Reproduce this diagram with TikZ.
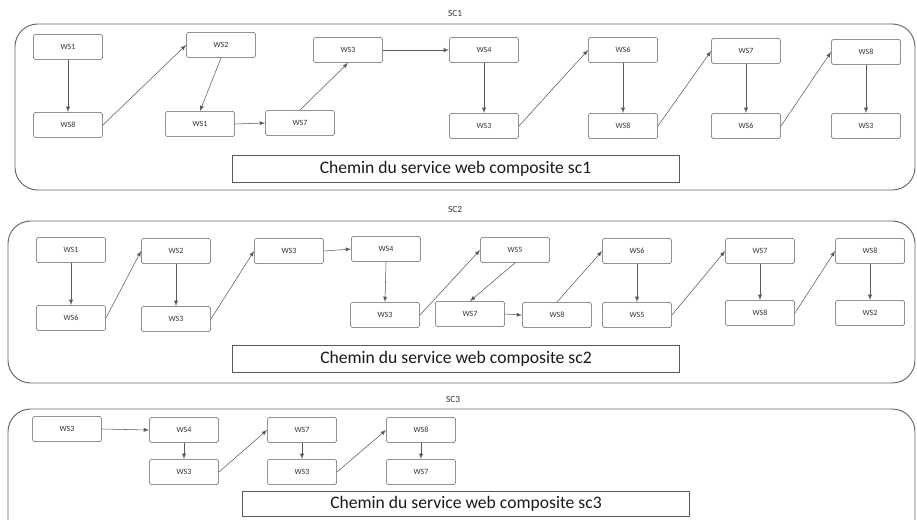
\documentclass[tikz,border=0pt]{standalone}
\usepackage{fontspec}
\setmainfont{Carlito}
\usetikzlibrary{arrows}
\usetikzlibrary{positioning}

\tikzset {
  % web service box
  ws/.style = {
    draw = black!65,
    rounded corners = 2pt,
    minimum width = 52pt,
    minimum height = 19pt,
    inner sep = 0,
    text = black!80,
    font = \fontsize{6}{7}\selectfont
  },
  % caption of each composite service
  path label/.style = {
    draw = black!65,
    minimum width = 335pt,
    minimum height = 20pt,
    inner sep = 0,
    text = black!90,
    font = \fontsize{13.2}{15}\selectfont
  },
  sc title/.style = {
    text = black!80,
    font = \fontsize{7}{8}\selectfont
  },
  % composite service frame
  sc frame/.style = {
    draw = black!60,
    line width = 0.7pt,
    rounded corners = 17pt
  },
  flow/.style = {
    draw = black!65,
    ->,
    >=latex
  }
}

\begin{document}
\begin{tikzpicture}[x=0.75pt, y=-0.75pt]
    \clip (0,0) rectangle (917,520);

    % SC1
    \node[sc title] (sc1) at (455,14) {SC1};
    \draw[sc frame] (15,24) rectangle (915,190);
    \node[ws] (a1) at (68,47) {WS1};
    \node[ws] (a2) at (68,125) {WS8};
    \node[ws] (a3) at (221,45) {WS2};
    \node[ws] (a4) at (200,124) {WS1};
    \node[ws] (a5) at (300,123) {WS7};
    \node[ws] (a6) at (348,50) {WS3};
    \node[ws] (a7) at (484,50) {WS4};
    \node[ws] (a8) at (484,126) {WS3};
    \node[ws] (a9) at (623,50) {WS6};
    \node[ws] (a10) at (623,126) {WS8};
    \node[ws] (a11) at (746,51) {WS7};
    \node[ws] (a12) at (746,126) {WS6};
    \node[ws] (a13) at (866,52) {WS8};
    \node[ws] (a14) at (866,126) {WS3};
    \node[path label] (cap1) at (455.5,168.5) {Chemin du service web composite sc1};

    \draw[flow] (a1.south) -- (a2.north);
    \draw[flow] (a2.east) -- (a3.west);
    \draw[flow] (a3.south) -- (a4.north);
    \draw[flow] (a4.east) -- (a5.west);
    \draw[flow] (a5.north) -- (a6.south);
    \draw[flow] (a6.east) -- (a7.west);
    \draw[flow] (a7.south) -- (a8.north);
    \draw[flow] (a8.east) -- (a9.west);
    \draw[flow] (a9.south) -- (a10.north);
    \draw[flow] (a10.east) -- (a11.west);
    \draw[flow] (a11.south) -- (a12.north);
    \draw[flow] (a12.east) -- (a13.west);
    \draw[flow] (a13.south) -- (a14.north);

    % SC2
    \node[sc title] (sc2) at (455,210) {SC2};
    \draw[sc frame] (8,221) rectangle (915,383);
    \node[ws] (b1) at (71,250) {WS1};
    \node[ws] (b2) at (71,318) {WS6};
    \node[ws] (b3) at (176,251) {WS2};
    \node[ws] (b4) at (176,319) {WS3};
    \node[ws] (b5) at (289,251) {WS3};
    \node[ws] (b6) at (386,249) {WS4};
    \node[ws] (b7) at (385,315) {WS3};
    \node[ws] (b8) at (515,250) {WS5};
    \node[ws] (b9) at (470,314) {WS7};
    \node[ws] (b10) at (557,315) {WS8};
    \node[ws] (b11) at (637,251) {WS6};
    \node[ws] (b12) at (637,315) {WS5};
    \node[ws] (b13) at (760,251) {WS7};
    \node[ws] (b14) at (760,313) {WS8};
    \node[ws] (b15) at (870,251) {WS8};
    \node[ws] (b16) at (870,313) {WS2};
    \node[path label] (cap2) at (456,359) {Chemin du service web composite sc2};

    \draw[flow] (b1.south) -- (b2.north);
    \draw[flow] (b2.east) -- (b3.west);
    \draw[flow] (b3.south) -- (b4.north);
    \draw[flow] (b4.east) -- (b5.west);
    \draw[flow] (b5.east) -- (b6.west);
    \draw[flow] (b6.south) -- (b7.north);
    \draw[flow] (b7.east) -- (b8.west);
    \draw[flow] (b8.south) -- (b9.north);
    \draw[flow] (b9.east) -- (b10.west);
    \draw[flow] (b10.north) -- (b11.west);
    \draw[flow] (b11.south) -- (b12.north);
    \draw[flow] (b12.east) -- (b13.west);
    \draw[flow] (b13.south) -- (b14.north);
    \draw[flow] (b14.east) -- (b15.west);
    \draw[flow] (b15.south) -- (b16.north);

    % SC3
    \node[sc title] (sc3) at (453,400) {SC3};
    \draw[sc frame] (8,409) rectangle (915,545);
    \node[ws] (c1) at (67,429) {WS3};
    \node[ws] (c2) at (184,430) {WS4};
    \node[ws] (c3) at (184,472) {WS3};
    \node[ws] (c4) at (302,430) {WS7};
    \node[ws] (c5) at (302,472) {WS3};
    \node[ws] (c6) at (421,430) {WS8};
    \node[ws] (c7) at (421,472) {WS7};
    \node[path label, minimum height = 19pt] (cap3) at (466,503.5) {Chemin du service web composite sc3};

    \draw[flow] (c1.east) -- (c2.west);
    \draw[flow] (c2.south) -- (c3.north);
    \draw[flow] (c3.east) -- (c4.west);
    \draw[flow] (c4.south) -- (c5.north);
    \draw[flow] (c5.east) -- (c6.west);
    \draw[flow] (c6.south) -- (c7.north);

\end{tikzpicture}
\end{document}
